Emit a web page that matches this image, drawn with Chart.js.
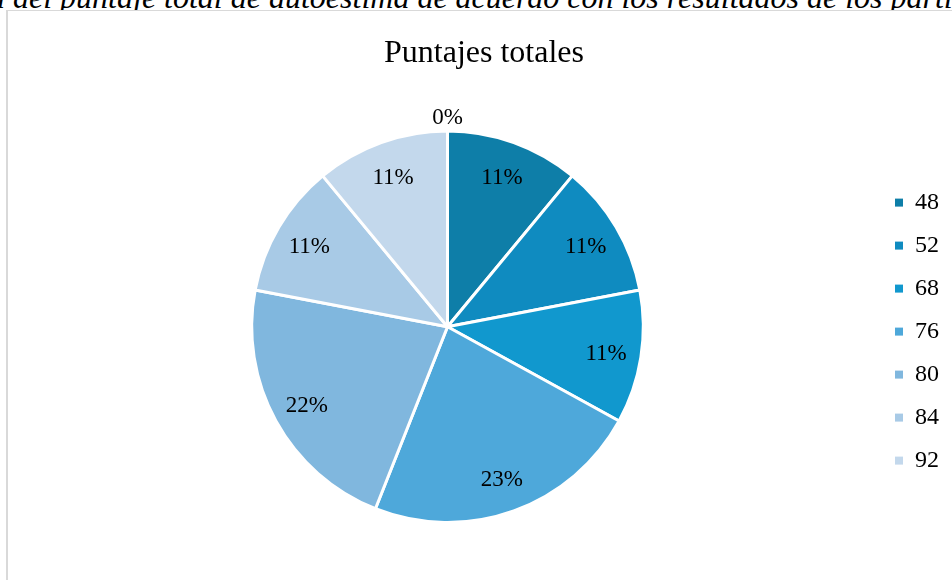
<!DOCTYPE html>
<html lang="es">
<head>
<meta charset="UTF-8" />
<title>Puntajes totales</title>
<script src="https://cdn.jsdelivr.net/npm/chart.js@4.4.0/dist/chart.umd.min.js"></script>
<style>
  html, body { margin: 0; padding: 0; background: #fff; overflow: hidden; width: 952px; height: 580px; }
  #caption {
    position: absolute; left: -11px; top: -19px; white-space: nowrap;
    font-family: "Liberation Serif", "Times New Roman", serif; font-style: italic;
    font-size: 32px; line-height: 32px; color: #000;
  }
  #frame {
    position: absolute; left: 6px; top: 10px; width: 960px; height: 580px;
    border-left: 2px solid #d9d9d9; border-top: 1px solid #d9d9d9; background: #fff;
  }
  #wrap { position: absolute; left: 2px; top: 1px; width: 943px; height: 568px; }
</style>
</head>
<body>
<div id="caption">a del puntaje total de autoestima de acuerdo con los resultados de los participantes</div>
<div id="frame">
  <div id="wrap"><canvas id="chart"></canvas></div>
</div>
<script>
// puntajes (categorías) y porcentajes
var puntajes = ['48', '52', '68', '76', '80', '84', '92', ''];
var valores = [11, 11, 11, 23, 22, 11, 11, 0];
var colores = ['#0e7ea8', '#0f8bc0', '#1198ce', '#4ea8da', '#80b7de', '#a8cae6', '#c3d8ec', '#dbe8f4'];

var serif = '"Liberation Serif", "Times New Roman", serif';

// etiquetas de porcentaje sobre cada sector
var etiquetas = {
  id: 'etiquetas',
  afterDatasetsDraw: function(chart) {
    var ctx = chart.ctx;
    var meta = chart.getDatasetMeta(0);
    var total = valores.reduce(function(a, b) { return a + b; }, 0);
    ctx.save();
    ctx.font = '23px ' + serif;
    ctx.fillStyle = '#000';
    ctx.textAlign = 'center';
    ctx.textBaseline = 'middle';
    meta.data.forEach(function(arc, i) {
      var p = arc.getProps(['x', 'y', 'startAngle', 'endAngle', 'outerRadius'], true);
      var mid = (p.startAngle + p.endAngle) / 2;
      var r = valores[i] === 0 ? p.outerRadius + 15 : p.outerRadius * 0.82;
      var txt = Math.round(valores[i] / total * 100) + '%';
      ctx.fillText(txt, p.x + Math.cos(mid) * r, p.y + Math.sin(mid) * r + 2);
    });
    ctx.restore();
  }
};

var ctx = document.getElementById('chart').getContext('2d');
var myChart = new Chart(ctx, {
  type: 'pie',
  data: {
    labels: puntajes,
    datasets: [{
      data: valores,
      backgroundColor: colores,
      borderColor: '#ffffff',
      borderWidth: 3
    }]
  },
  options: {
    responsive: true,
    maintainAspectRatio: false,
    animation: false,
    layout: { padding: { left: 9, right: 4, top: 0, bottom: 56 } },
    plugins: {
      title: {
        display: true,
        text: 'Puntajes totales',
        color: '#000',
        font: { family: serif, size: 32, weight: 'normal' },
        padding: { top: 22, bottom: 57 }
      },
      legend: {
        position: 'right',
        title: { display: true, text: ' ', font: { size: 1 }, padding: { top: 63, bottom: 63 } },
        labels: {
          filter: function(item) { return item.text !== ''; },
          generateLabels: function(chart) {
            var items = Chart.overrides.pie.plugins.legend.labels.generateLabels(chart);
            items.forEach(function(it) { it.lineWidth = 0; });
            return items;
          },
          color: '#000',
          boxWidth: 8,
          boxHeight: 8,
          padding: 19,
          font: { family: serif, size: 24 }
        }
      },
      tooltip: { enabled: false }
    }
  },
  plugins: [etiquetas]
});
</script>
</body>
</html>
